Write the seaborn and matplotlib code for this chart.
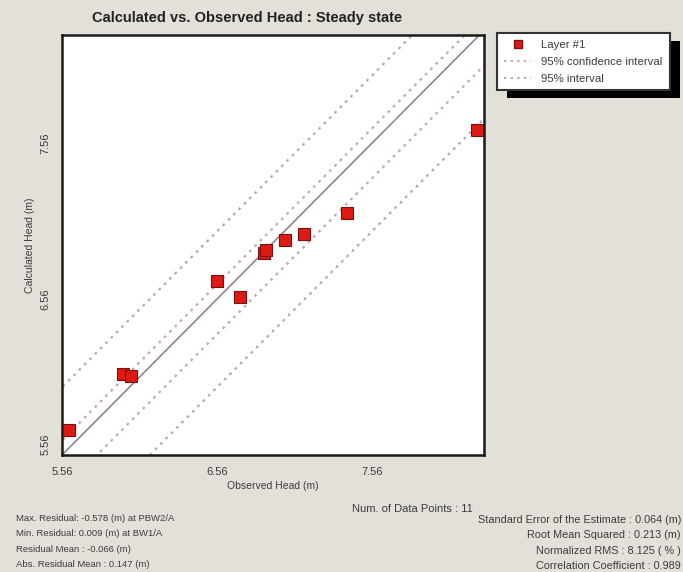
import numpy as np
import pandas as pd
import matplotlib
matplotlib.use("Agg")
import matplotlib.pyplot as plt
from matplotlib.patches import Rectangle
from matplotlib.lines import Line2D
from matplotlib.ticker import FixedLocator
import seaborn as sns

# observed vs calculated heads (m)
observed = [5.605, 5.955, 6.005, 6.56, 6.71, 6.865, 6.88, 7.0, 7.12, 7.40, 8.24]
calculated = [5.72, 6.08, 6.065, 6.675, 6.575, 6.855, 6.875, 6.94, 6.98, 7.115, 7.645]

major_ticks = [5.56, 6.56, 7.56]
tick_labels = ["5.56", "6.56", "7.56"]

residual_mean = -0.066
ci_half = 0.16   # 95% confidence interval half width
pi_half = 0.50   # 95% interval half width

left_stats = [
    "Max. Residual: -0.578 (m) at PBW2/A",
    "Min. Residual: 0.009 (m) at BW1/A",
    "Residual Mean : -0.066 (m)",
    "Abs. Residual Mean : 0.147 (m)",
]
right_stats = [
    "Standard Error of the Estimate : 0.064 (m)",
    "Root Mean Squared : 0.213 (m)",
    "Normalized RMS : 8.125 ( % )",
    "Correlation Coefficient : 0.989",
]

sns.set_style("white")
plt.rcParams['font.family'] = ['Liberation Sans', 'DejaVu Sans']

bg = '#e3dfd9'
txt = '#3c3c3c'
ci_col = '#c9a5a5'
pi_col = '#b3a9b0'
dots = (0, (1.2, 2.2))

fig = plt.figure(figsize=(6.83, 5.72), dpi=100, facecolor=bg)
ax = fig.add_axes([0.0908, 0.2045, 0.618, 0.7343])
ax.set_facecolor('white')

xlim = (5.56, 8.285)
ylim = (5.56, 8.255)
xs = np.array([5.0, 9.0])
lines = pd.DataFrame({
    'x': np.concatenate([xs] * 5),
    'y': np.concatenate([
        xs,
        xs + residual_mean + ci_half,
        xs + residual_mean - ci_half,
        xs + residual_mean + pi_half,
        xs + residual_mean - pi_half,
    ]),
    'kind': np.repeat(['id', 'ci_u', 'ci_l', 'pi_u', 'pi_l'], 2),
})

sns.lineplot(data=lines[lines.kind == 'id'], x='x', y='y', color='#8c7a88',
             lw=1.1, ax=ax, zorder=2)
for k in ['ci_u', 'ci_l']:
    sns.lineplot(data=lines[lines.kind == k], x='x', y='y', color=ci_col,
                 lw=1.6, ls=dots, ax=ax, zorder=2)
for k in ['pi_u', 'pi_l']:
    sns.lineplot(data=lines[lines.kind == k], x='x', y='y', color=pi_col,
                 lw=1.6, ls=dots, ax=ax, zorder=2)

pts = pd.DataFrame({'observed': observed, 'calculated': calculated})
sns.scatterplot(data=pts, x='observed', y='calculated', marker='s', s=75,
                color='#dd1a14', edgecolor='#7a1010', linewidth=0.8,
                ax=ax, zorder=3, clip_on=False)

ax.set_xlim(*xlim)
ax.set_ylim(*ylim)
ax.xaxis.set_major_locator(FixedLocator(major_ticks))
ax.yaxis.set_major_locator(FixedLocator(major_ticks))
ax.set_xticklabels(tick_labels)
ax.set_yticklabels(tick_labels, rotation=90, va='center')
# lowest y label sits just above the corner
ax.get_yticklabels()[0].set_va('bottom')
ax.xaxis.set_minor_locator(FixedLocator(np.arange(5.56, 8.29, 0.2)))
ax.yaxis.set_minor_locator(FixedLocator(np.arange(5.56, 8.26, 0.2)))
ax.tick_params(which='major', direction='inout', length=7, width=0.9,
               colors='#222222', labelsize=8, labelcolor=txt, pad=5)
ax.tick_params(which='minor', direction='out', length=3, width=0.9,
               colors='#444444')
for s in ax.spines.values():
    s.set_color('#1a1a1a')
    s.set_linewidth(1.8)
ax.set_xlabel("Observed Head (m)", fontsize=7.5, color=txt, labelpad=3)
ax.set_ylabel("Calculated Head (m)", fontsize=7.5, color=txt, labelpad=4)

fig.text(0.362, 0.968, "Calculated vs. Observed Head : Steady state",
         ha='center', va='center', fontsize=10.5, fontweight='bold', color='#222222')

# legend with black drop shadow
handles = [
    Line2D([], [], marker='s', ls='none', color='#dd1a14', markeredgecolor='#7a1010',
           markersize=6),
    Line2D([], [], color=ci_col, lw=1.4, ls=dots),
    Line2D([], [], color=pi_col, lw=1.4, ls=dots),
]
leg = fig.legend(handles, ["Layer #1", "95% confidence interval", "95% interval"],
                 loc='upper left', bbox_to_anchor=(0.7277, 0.9423), borderaxespad=0,
                 fontsize=8.2, frameon=True, fancybox=False, borderpad=0.6,
                 handlelength=2.4, handletextpad=0.9, labelspacing=0.6,
                 labelcolor=txt)
leg.get_frame().set_edgecolor('#333333')
leg.get_frame().set_linewidth(1.5)
leg.get_frame().set_facecolor('white')
leg.get_frame().set_alpha(1)
leg.set_zorder(5)
fig.canvas.draw()
bb = leg.get_window_extent().transformed(fig.transFigure.inverted())
fig.patches.append(Rectangle((bb.x0 + 10 / 683, bb.y0 - 8 / 572), bb.width, bb.height,
                             transform=fig.transFigure, facecolor='black',
                             edgecolor='none', zorder=1))

fig.text(0.516, 0.111, "Num. of Data Points : 11", fontsize=8, color=txt, va='center')
for i, s in enumerate(left_stats):
    fig.text(0.024, 0.094 - i * 0.027, s, fontsize=6.8, color=txt, va='center')
for i, s in enumerate(right_stats):
    fig.text(0.997, 0.091 - i * 0.027, s, fontsize=7.8, color=txt, va='center', ha='right')

fig.savefig("out.png", dpi=100, facecolor=bg)
